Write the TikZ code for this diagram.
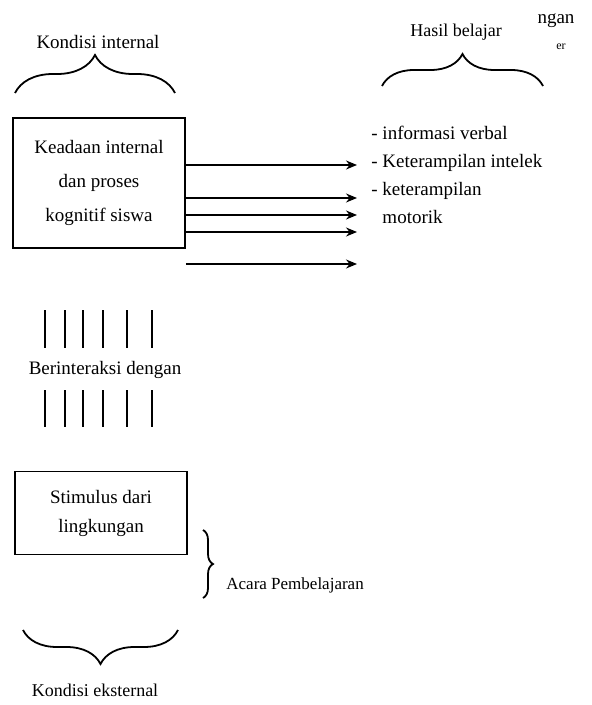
\documentclass[tikz,border=0pt]{standalone}
\usepackage{fontspec}
\setmainfont{Liberation Serif}
\usetikzlibrary{positioning,arrows.meta,decorations.pathreplacing}

\begin{document}
\begin{tikzpicture}[
    x=0.5pt, y=-0.5pt,
    teks/.style={font=\fontsize{9.5}{12}\selectfont, inner sep=0pt},
    kotak/.style={draw, line width=0.9pt, minimum width=86pt, align=center},
    arrow/.style={-{Stealth[length=5.5pt,width=4.5pt]}, line width=0.8pt},
    kurung/.style={decorate, decoration={brace, amplitude=#1}, line width=0.9pt},
    garis/.style={line width=1pt}
  ]
    \useasboundingbox (0,0) rectangle (592,705);
    % kondisi internal
    \node[teks] (kin) at (98,42) {Kondisi internal};
    \draw[kurung=19pt] (15,93) -- (175,93);
    \node[kotak, minimum height=65pt, font=\fontsize{9.5}{17}\selectfont] (keadaan) at (99,183) {Keadaan internal\\dan proses\\kognitif siswa};
    % hasil belajar
    \node[teks, font=\fontsize{9}{11}\selectfont] (hasil) at (456,32) {Hasil belajar};
    \node[teks] (sisa1) at (556,21) {ngan};
    \node[teks, font=\fontsize{6}{7}\selectfont] (sisa2) at (561,47) {er};
    \draw[kurung=16pt] (382,86) -- (543,86);
    \node[teks, font=\fontsize{9.5}{14}\selectfont, align=left, anchor=north west] (daftar) at (371,126)
      {- informasi verbal\\- Keterampilan intelek\\- keterampilan\\\phantom{- }motorik};
    \foreach \n/\y in {1/165, 2/198, 3/215, 4/232, 5/264} {
      \coordinate (t\n) at (357,\y);
      \draw[arrow] (keadaan.east |- t\n) -- (t\n);
    }
    % interaksi
    \foreach \x in {45,65,83,103,127,152} {
      \draw[garis] (\x,310) -- (\x,348);
      \draw[garis] (\x,390) -- (\x,427);
    }
    \node[teks] (interaksi) at (105,370) {Berinteraksi dengan};
    % kondisi eksternal
    \node[kotak, minimum height=41.5pt, font=\fontsize{9.5}{14.5}\selectfont] (stimulus) at (101,513) {Stimulus dari\\lingkungan};
    \draw[kurung=5pt] (203,530) -- (203,598);
    \node[teks, font=\fontsize{8.5}{10}\selectfont, anchor=west] (acara) at (226,585) {Acara Pembelajaran};
    \draw[kurung=17pt] (178,630) -- (23,630);
    \node[teks, font=\fontsize{9}{11}\selectfont] (keks) at (95,690) {Kondisi eksternal};
  \end{tikzpicture}
\end{document}
